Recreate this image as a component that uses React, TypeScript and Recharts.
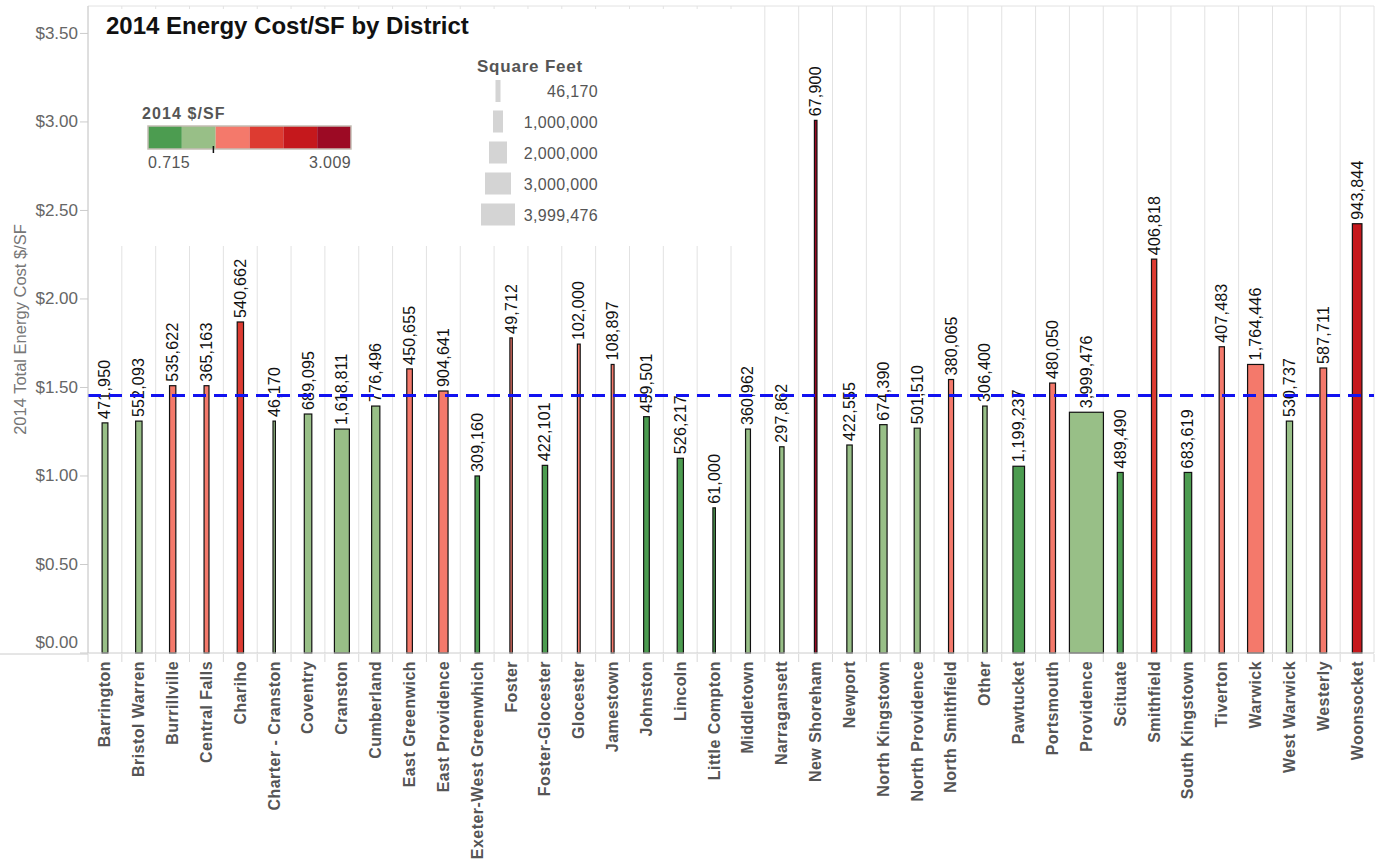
import { BarChart, Bar, XAxis, YAxis, CartesianGrid, ReferenceLine } from "recharts";

const districts = [
  "Barrington", "Bristol Warren", "Burrillville", "Central Falls", "Chariho",
  "Charter - Cranston", "Coventry", "Cranston", "Cumberland", "East Greenwich",
  "East Providence", "Exeter-West Greenwhich", "Foster", "Foster-Glocester", "Glocester",
  "Jamestown", "Johnston", "Lincoln", "Little Compton", "Middletown",
  "Narragansett", "New Shoreham", "Newport", "North Kingstown", "North Providence",
  "North Smithfield", "Other", "Pawtucket", "Portsmouth", "Providence",
  "Scituate", "Smithfield", "South Kingstown", "Tiverton", "Warwick",
  "West Warwick", "Westerly", "Woonsocket",
];

const costPerSf = [
  1.30, 1.31, 1.51, 1.51, 1.87,
  1.31, 1.35, 1.265, 1.395, 1.605,
  1.48, 1.00, 1.78, 1.06, 1.745,
  1.63, 1.335, 1.10, 0.82, 1.265,
  1.165, 3.009, 1.175, 1.29, 1.27,
  1.545, 1.395, 1.055, 1.525, 1.36,
  1.02, 2.225, 1.02, 1.73, 1.63,
  1.31, 1.61, 2.425,
];

const squareFeet = [
  471950, 552093, 535622, 365163, 540662,
  46170, 689095, 1618811, 776496, 450655,
  904641, 309160, 49712, 422101, 102000,
  108897, 459501, 526217, 61000, 360962,
  297862, 67900, 422555, 674390, 501510,
  380065, 306400, 1199237, 480050, 3999476,
  489490, 406818, 683619, 407483, 1764446,
  530737, 587711, 943844,
];

// legend bucket (0 = darkest green ... 5 = darkest red) as shown in the picture
const colorStep = [
  1, 1, 2, 2, 3,
  1, 1, 1, 1, 2,
  2, 0, 2, 0, 2,
  2, 0, 0, 0, 1,
  1, 5, 1, 1, 1,
  2, 1, 0, 2, 1,
  0, 3, 0, 2, 2,
  1, 2, 4,
];

const stepColors = ["#4c9c50", "#98bf87", "#f4796b", "#dd3b31", "#c5181c", "#9c0a24"];
const yTicks = [0, 0.5, 1, 1.5, 2, 2.5, 3, 3.5];
const averageCost = 1.454;
const legendSizes = [46170, 1000000, 2000000, 3000000, 3999476];
const colorRange = [0.715, 3.009];

const W = 1375;
const H = 863;
const LEFT = 88;
const RIGHT = 1;
const n = districts.length;
const band = (W - LEFT - RIGHT) / n;
const maxSf = Math.max(...squareFeet);
const barW = (sf: number) => 2 + (sf / maxSf) * 32;
const FONT = "Arial, 'Liberation Sans', sans-serif";

const data = districts.map((name, i) => ({
  name,
  cost: costPerSf[i],
  sf: squareFeet[i],
  step: colorStep[i],
}));

function SizedBar(props: any) {
  const { x, y, width, height, payload } = props;
  const w = barW(payload.sf);
  const cx = x + width / 2;
  const ty = y - 4;
  return (
    <g>
      <rect x={cx - w / 2} y={y} width={w} height={height} fill={stepColors[payload.step]} stroke="#111" strokeWidth={1.2} />
      <text
        x={cx}
        y={ty}
        transform={`rotate(-90 ${cx} ${ty})`}
        textAnchor="start"
        dominantBaseline="central"
        fontSize={16}
        letterSpacing={0.2}
        fontFamily={FONT}
        fill="#111"
      >
        {payload.sf.toLocaleString("en-US")}
      </text>
    </g>
  );
}

function DistrictTick(props: any) {
  const { x, y, payload, index } = props;
  const ty = y + 8;
  return (
    <g>
      <line x1={x - band / 2} x2={x - band / 2} y1={y + 1} y2={y + 9} stroke="#d8d8d8" />
      {index === n - 1 && (
        <line x1={x + band / 2} x2={x + band / 2} y1={y + 1} y2={y + 9} stroke="#d8d8d8" />
      )}
      <text
        x={x}
        y={ty}
        transform={`rotate(-90 ${x} ${ty})`}
        textAnchor="end"
        dominantBaseline="central"
        fontSize={16}
        fontWeight="bold"
        letterSpacing={0.45}
        fontFamily={FONT}
        fill="#555"
      >
        {payload.value}
      </text>
    </g>
  );
}

function CostTick(props: any) {
  const { x, y, payload } = props;
  const dy = payload.value === 0 ? -11 : 0;
  return (
    <text x={x} y={y + dy} textAnchor="end" dominantBaseline="central" fontSize={17} fontFamily={FONT} fill="#666">
      {`$${payload.value.toFixed(2)}`}
    </text>
  );
}

function AxisTitle(props: any) {
  const vb = props.viewBox || { x: 0, y: 6, width: 88, height: 647 };
  const x = vb.x + 20;
  const y = vb.y + vb.height / 2;
  return (
    <text x={x} y={y} transform={`rotate(-90 ${x} ${y})`} textAnchor="middle" dominantBaseline="central" fontSize={16.5} fontFamily={FONT} fill="#777">
      2014 Total Energy Cost $/SF
    </text>
  );
}

function Overlay() {
  const boxW = 203 / stepColors.length;
  const tickX = 148 + ((averageCost - colorRange[0]) / (colorRange[1] - colorRange[0])) * 203;
  const rowY = [91, 121.5, 152.5, 183.5, 214.5];
  return (
    <svg width={W} height={H} style={{ position: "absolute", left: 0, top: 0, pointerEvents: "none" }}>
      <line x1={0} x2={LEFT} y1={654} y2={654} stroke="#ccc" />
      <rect x={89} y={9} width={673} height={237} fill="#fff" />
      <text x={106} y={34} fontSize={24} fontWeight="bold" fontFamily={FONT} fill="#111">
        2014 Energy Cost/SF by District
      </text>

      <text x={142} y={119} fontSize={16} fontWeight="bold" letterSpacing={1.1} fontFamily={FONT} fill="#555">
        2014 $/SF
      </text>
      {stepColors.map((c, i) => (
        <rect key={c} x={148 + i * boxW} y={126} width={boxW} height={23} fill={c} />
      ))}
      <rect x={148} y={126} width={203} height={23} fill="none" stroke="#c4bdb4" strokeWidth={1.5} />
      <line x1={tickX} x2={tickX} y1={146} y2={153} stroke="#111" strokeWidth={1.5} />
      <text x={148} y={168} fontSize={16} letterSpacing={0.4} fontFamily={FONT} fill="#555">
        {colorRange[0].toFixed(3)}
      </text>
      <text x={351} y={168} textAnchor="end" fontSize={16} letterSpacing={0.4} fontFamily={FONT} fill="#555">
        {colorRange[1].toFixed(3)}
      </text>

      <text x={530} y={72} textAnchor="middle" fontSize={17} fontWeight="bold" letterSpacing={0.8} fontFamily={FONT} fill="#555">
        Square Feet
      </text>
      {legendSizes.map((s, i) => {
        const w = Math.max(barW(s), 5);
        return (
          <g key={s}>
            <rect x={498 - w / 2} y={rowY[i] - 11} width={w} height={22} fill="#d4d4d4" />
            <text x={598} y={rowY[i] + 6} textAnchor="end" fontSize={16} letterSpacing={0.35} fontFamily={FONT} fill="#555">
              {s.toLocaleString("en-US")}
            </text>
          </g>
        );
      })}
    </svg>
  );
}

export default function App() {
  return (
    <div style={{ position: "absolute", left: 0, top: 0, width: W, height: H, background: "#fff", fontFamily: FONT }}>
      <BarChart
        width={W}
        height={H}
        data={data}
        margin={{ top: 6, right: RIGHT, left: 0, bottom: 0 }}
        barCategoryGap={0}
      >
        <CartesianGrid
          stroke="#e2e2e2"
          vertical
          horizontal
          verticalCoordinatesGenerator={({ offset }: any) =>
            Array.from({ length: n + 1 }, (_, i) =>
              (offset?.left ?? LEFT) + (i * (offset?.width ?? W - LEFT - RIGHT)) / n)
          }
          horizontalCoordinatesGenerator={({ offset }: any) => [offset?.top ?? 6]}
        />
        <XAxis
          dataKey="name"
          interval={0}
          tickSize={0}
          tickMargin={0}
          tickLine={false}
          axisLine={{ stroke: "#ccc" }}
          height={210}
          tick={<DistrictTick />}
        />
        <YAxis
          width={88}
          domain={[0, 3.655]}
          ticks={yTicks}
          tickSize={8}
          tickMargin={2}
          tickLine={{ stroke: "#ccc" }}
          axisLine={{ stroke: "#ccc" }}
          tick={<CostTick />}
          label={<AxisTitle />}
        />
        <Bar dataKey="cost" shape={SizedBar} isAnimationActive={false} />
        <ReferenceLine y={averageCost} stroke="#1212f0" strokeWidth={3} strokeDasharray="13 8" />
      </BarChart>
      <Overlay />
    </div>
  );
}
